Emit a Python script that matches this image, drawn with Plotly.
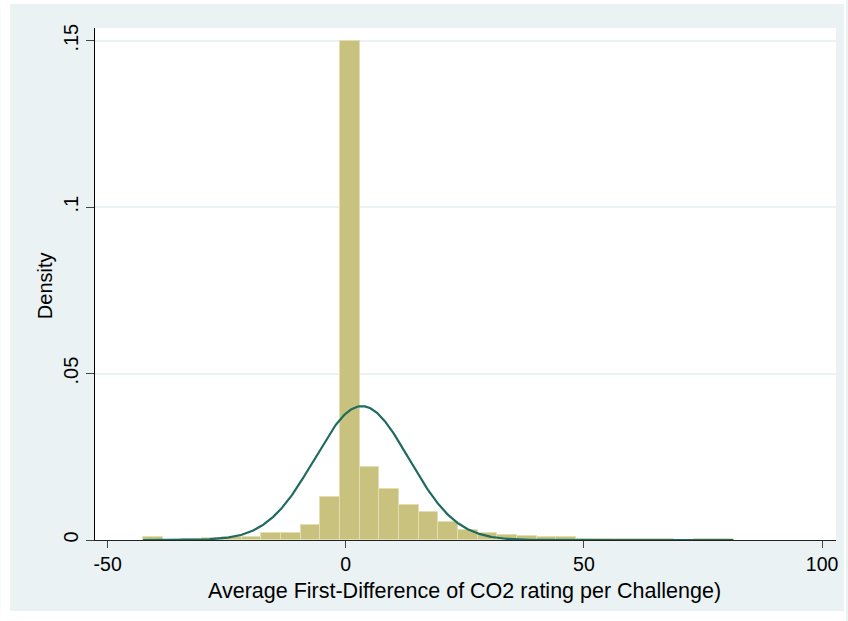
import numpy as np
import plotly.graph_objects as go

# ---- data ----
bin_start = -42.55          # left edge of first bin
bin_width = 4.13            # histogram bin width
density = [0.0008, 0.0, 0.0004, 0.0006, 0.0010, 0.0010, 0.0022, 0.0022,
           0.0045, 0.0130, 0.1500, 0.0218, 0.0152, 0.0105, 0.0083, 0.0053,
           0.0031, 0.0021, 0.0015, 0.0011, 0.0010, 0.0010, 0.0004, 0.0004,
           0.0002, 0.0002, 0.0002, 0.0, 0.0003, 0.0003]
normal_mean = 3.35
normal_sd = 9.92
data_min = -42.55
data_max = 81.4

x_tickvals = [-50, 0, 50, 100]
x_ticktext = ["-50", "0", "50", "100"]
y_tickvals = [0, 0.05, 0.10, 0.15]
y_ticktext = ["0", ".05", ".1", ".15"]

x_title = "Average First-Difference of CO2 rating per Challenge)"
y_title = "Density"

# ---- derived ----
centers = [bin_start + bin_width * (i + 0.5) for i in range(len(density))]
xs = np.linspace(data_min, data_max, 600)
ys = np.exp(-0.5 * ((xs - normal_mean) / normal_sd) ** 2) / (normal_sd * np.sqrt(2 * np.pi))

BG = "#EAF2F3"
BAR = "#C9C27F"
BAR_EDGE = "#E3DEB2"
LINE = "#1F6B60"
FONT = "Liberation Sans, Arial, sans-serif"

fig = go.Figure()
fig.add_trace(go.Bar(x=centers, y=density, width=bin_width,
                     marker=dict(color=BAR, line=dict(color=BAR_EDGE, width=1)),
                     hoverinfo="skip", showlegend=False))
fig.add_trace(go.Scatter(x=xs, y=ys, mode="lines",
                         line=dict(color=LINE, width=2.2),
                         hoverinfo="skip", showlegend=False))

W, H = 848, 621
L, R, T, B = 95, 10, 28, 81

fig.update_layout(
    width=W, height=H,
    margin=dict(l=L, r=R, t=T, b=B, pad=0),
    paper_bgcolor=BG, plot_bgcolor="white",
    font=dict(family=FONT, color="black"),
    bargap=0,
    xaxis=dict(range=[-52.66, 102.93], tickvals=x_tickvals, ticktext=x_ticktext,
               showgrid=False, zeroline=False, showline=True, linecolor="#222222",
               linewidth=1, ticks="outside", ticklen=7, tickcolor="#444444",
               tickwidth=1, tickfont=dict(size=19.5, family=FONT, color="black")),
    yaxis=dict(range=[0, 0.1538], tickvals=y_tickvals, ticktext=y_ticktext,
               showgrid=True, gridcolor=BG, gridwidth=1.5, zeroline=False,
               showline=True, linecolor="black", linewidth=1, ticks="outside",
               ticklen=8, tickcolor="#444444", tickwidth=1, tickangle=-90,
               tickfont=dict(size=20, family=FONT, color="black")),
)

pw = W - L - R
ph = H - T - B
def px(xp):
    return (xp - L) / pw
def py(yp):
    return (H - B - yp) / ph

# white outer border strips around the light-blue graph region
for x0, x1, y0, y1 in [(0, 10, 0, H), (846, W, 0, H), (0, W, 0, 4), (0, W, 611, H)]:
    fig.add_shape(type="rect", xref="paper", yref="paper",
                  x0=px(x0), x1=px(x1), y0=py(y1), y1=py(y0),
                  fillcolor="white", line=dict(width=0), layer="below")

fig.add_annotation(text=x_title, xref="paper", yref="paper",
                   x=px(465), y=py(591), xanchor="center", yanchor="middle",
                   showarrow=False, font=dict(size=21.5, family=FONT, color="black"))
fig.add_annotation(text=y_title, xref="paper", yref="paper",
                   x=px(45), y=py(286), xanchor="center", yanchor="middle",
                   textangle=-90, showarrow=False,
                   font=dict(size=20, family=FONT, color="black"))

fig.write_html("out.html", config={"displayModeBar": False},
               post_script="document.body.style.margin='0';document.body.style.overflow='hidden';")
